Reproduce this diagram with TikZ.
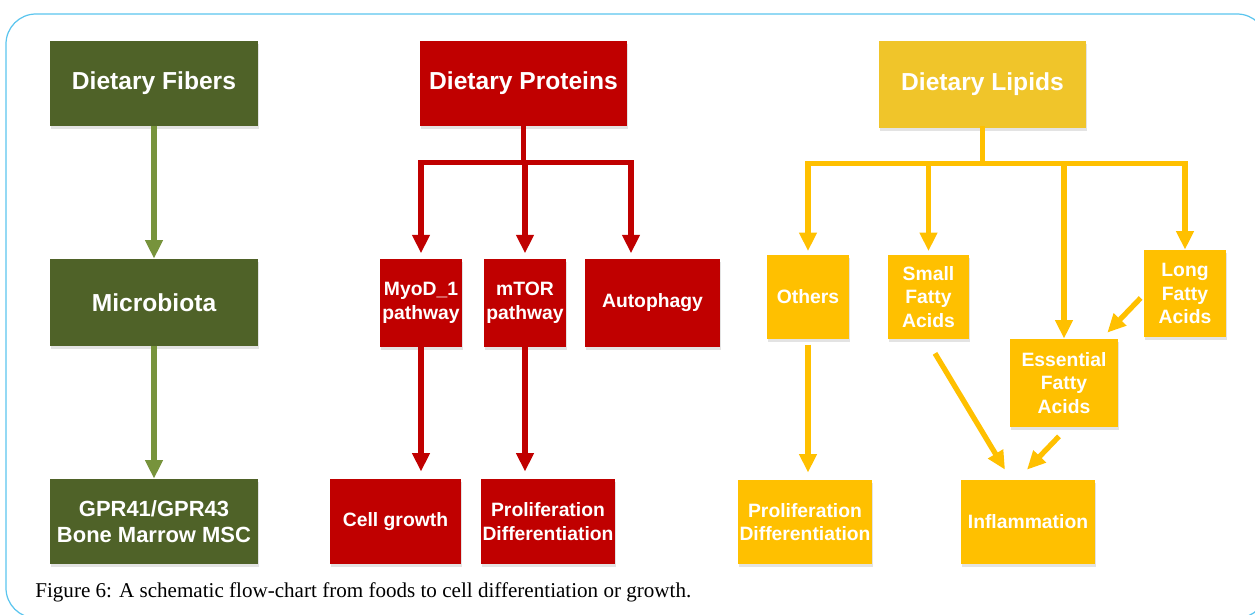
\documentclass[tikz,border=0pt]{standalone}
\usepackage{fontspec}
\setmainfont{Liberation Sans}
\newfontfamily\capfont{Liberation Serif}
\usetikzlibrary{calc,positioning,arrows.meta,shadows}
\definecolor{fibgreen}{HTML}{4F6228}
\definecolor{fibarrow}{HTML}{77933C}
\definecolor{protred}{HTML}{C00000}
\definecolor{lipgold}{HTML}{F0C52A}
\definecolor{lipyellow}{HTML}{FFC000}
\definecolor{framecyan}{HTML}{5BC5EE}

\begin{document}
\begin{tikzpicture}[
                x=0.02cm, y=-0.02cm,
                box/.style={rectangle,inner sep=0pt,align=center,text=white,
                    font=\bfseries\fontsize{11}{13.5}\selectfont,
                    drop shadow={shadow xshift=0.8pt,shadow yshift=-1.8pt,opacity=0.22}},
                head/.style={font=\bfseries\fontsize{14}{17}\selectfont},
                fib/.style={box,fill=fibgreen},
                prot/.style={box,fill=protred},
                lip/.style={box,fill=lipyellow},
                flow/.style={line width=3pt,-{Triangle[width=9.5pt,length=10.5pt]}},
                bar/.style={line width=3pt,line cap=rect}
            ]
                \useasboundingbox (0,0) rectangle (1255,615);
                \clip (0,0) rectangle (1255,615);
                \draw[framecyan,line width=0.7pt,rounded corners=0.6cm] (6,14) rectangle (1267,618);

                \node[fib,head,minimum width=4.16cm,minimum height=1.70cm] (fibers) at (154,83.5) {Dietary Fibers};
                \node[fib,head,minimum width=4.16cm,minimum height=1.74cm] (micro) at (154,302.5) {Microbiota};
                \node[fib,font=\bfseries\fontsize{12.5}{15}\selectfont,minimum width=4.16cm,minimum height=1.70cm] (gpr) at (154,521.5) {GPR41/GPR43\\Bone Marrow MSC};

                \node[prot,head,minimum width=4.14cm,minimum height=1.70cm] (proteins) at (523.5,83.5) {Dietary Proteins};
                \node[prot,minimum width=1.64cm,minimum height=1.76cm] (myod) at (421,303) {MyoD\_1\\pathway};
                \node[prot,minimum width=1.64cm,minimum height=1.76cm] (mtor) at (525,303) {mTOR\\pathway};
                \node[prot,minimum width=2.70cm,minimum height=1.76cm] (autophagy) at (652.5,303) {Autophagy};
                \node[prot,minimum width=2.62cm,minimum height=1.70cm] (growth) at (395.5,521.5) {Cell growth};
                \node[prot,minimum width=2.68cm,minimum height=1.70cm] (protdiff) at (548,521.5) {Proliferation\\Differentiation};

                \node[lip,head,fill=lipgold,minimum width=4.14cm,minimum height=1.74cm] (lipids) at (982.5,84.5) {Dietary Lipids};
                \node[lip,minimum width=1.64cm,minimum height=1.68cm] (others) at (808,297) {Others};
                \node[lip,minimum width=1.62cm,minimum height=1.68cm] (small) at (928.5,297) {Small\\Fatty\\Acids};
                \node[lip,minimum width=1.64cm,minimum height=1.74cm] (long) at (1185,293.5) {Long\\Fatty\\Acids};
                \node[lip,minimum width=2.16cm,minimum height=1.76cm] (essential) at (1064,383) {Essential\\Fatty\\Acids};
                \node[lip,minimum width=2.68cm,minimum height=1.68cm] (lipdiff) at (805,522) {Proliferation\\Differentiation};
                \node[lip,minimum width=2.68cm,minimum height=1.68cm] (inflam) at (1028,522) {Inflammation};

                \draw[flow,fibarrow] (fibers) -- (micro);
                \draw[flow,fibarrow] (micro) -- (gpr);

                \coordinate (pfork) at ($(proteins.south)+(0,36)$);
                \coordinate (autoin) at ($(autophagy.north)+(-21.5,0)$);
                \draw[bar,protred] (proteins.south) -- (pfork);
                \draw[bar,protred] (myod.north |- pfork) -- (autoin |- pfork);
                \draw[flow,protred,shorten >=3pt] (myod.north |- pfork) -- (myod);
                \draw[flow,protred,shorten >=3pt] (mtor.north |- pfork) -- (mtor);
                \draw[flow,protred,shorten >=3pt] (autoin |- pfork) -- (autoin);
                \draw[flow,protred,shorten >=4pt] (myod) -- (myod.south |- growth.north);
                \draw[flow,protred,shorten >=4pt] (mtor) -- (mtor.south |- protdiff.north);

                \coordinate (lfork) at ($(lipids.south)+(0,35)$);
                \draw[bar,lipyellow] (lipids.south) -- (lfork);
                \draw[bar,lipyellow] (others.north |- lfork) -- (long.north |- lfork);
                \draw[flow,lipyellow,shorten >=2pt] (others.north |- lfork) -- (others);
                \draw[flow,lipyellow,shorten >=2pt] (small.north |- lfork) -- (small);
                \draw[flow,lipyellow] (essential.north |- lfork) -- (essential);
                \draw[flow,lipyellow] (long.north |- lfork) -- (long);
                \draw[flow,lipyellow,shorten <=3pt,shorten >=4pt] (others) -- (others.south |- lipdiff.north);
                \draw[flow,lipyellow] ($(long.west)+(-3,4.5)$) -- ($(essential.north east)+(-11,-6)$);
                \draw[flow,lipyellow] ($(small.south)+(6.5,14)$) -- ($(inflam.north)+(-23,-10)$);
                \draw[flow,lipyellow] ($(essential.south)+(-5,9)$) -- ($(inflam.north)+(-1,-10)$);

                \node[anchor=base west,inner sep=0pt,font=\capfont\fontsize{12}{14}\selectfont] (caption) at (35,597)
                    {Figure 6: A schematic flow-chart from foods to cell differentiation or growth.};
            \end{tikzpicture}
\end{document}
